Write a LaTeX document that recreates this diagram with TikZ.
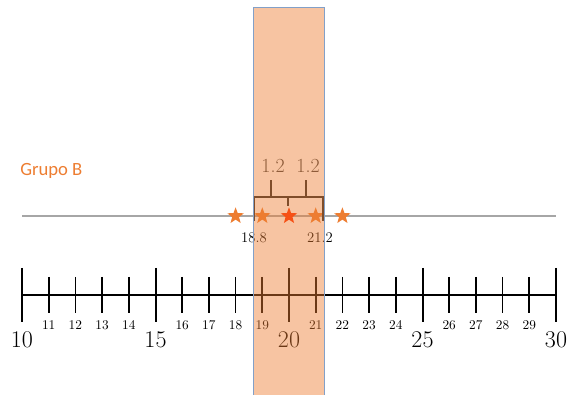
\documentclass[tikz,border=0pt]{standalone}
\usepackage{fontspec}
\newfontfamily\carlito{Carlito}
\usetikzlibrary{shapes.geometric}
\definecolor{grporange}{RGB}{237,125,49}
\definecolor{grpred}{RGB}{255,45,0}
\definecolor{bandedge}{RGB}{130,160,200}

\begin{document}
\begin{tikzpicture}[x=0.75pt,y=-0.75pt,
  axis/.style={line width=1.5pt, black},
  minortick/.style={line width=1.3pt, black},
  majortick/.style={line width=1.5pt, black},
  minorlbl/.style={font=\fontsize{10}{12}\selectfont, inner sep=0pt},
  majorlbl/.style={font=\fontsize{18}{20}\selectfont, inner sep=0pt},
  pt/.style={star, star points=5, star point ratio=2.4, fill=grporange, minimum size=13pt, inner sep=0pt},
  brace/.style={line width=1.2pt, black!85},
  band/.style={fill=grporange, fill opacity=0.45, draw=bandedge, line width=0.6pt}
]
\useasboundingbox (0,0) rectangle (569,395);

% grupo B
\node[font=\carlito\fontsize{14}{16}\selectfont, text=grporange, anchor=west, inner sep=0pt] (grp) at (20,171) {Grupo B};
\coordinate (gl) at (22,216);
\coordinate (gr) at (556,216);
\draw[gray!70, line width=1pt] (gl) -- (gr);

\foreach \v/\c in {18/grporange,19/grporange,20/grpred,21/grporange,22/grporange}
  \node[pt, fill=\c] (s\v) at ({22+(\v-10)*26.7},216) {};

% braces
\coordinate (b1) at (254,221);
\coordinate (b2) at (254,197);
\coordinate (b3) at (323,197);
\coordinate (b4) at (323,221);
\coordinate (bm) at (288,197);
\coordinate (bl) at (271,197);
\coordinate (br) at (306,197);
\draw[brace] (b1) -- (b2) -- (b3) -- (b4);
\draw[brace] (bm) -- ++(0,9);
\draw[brace] (bl) -- ++(0,-17);
\draw[brace] (br) -- ++(0,-17);
\node[font=\fontsize{15}{18}\selectfont, text=black!75, inner sep=0pt] (d1) at (273,166) {1.2};
\node[font=\fontsize{15}{18}\selectfont, text=black!75, inner sep=0pt] (d2) at (308,166) {1.2};
\node[font=\fontsize{11}{13}\selectfont, inner sep=0pt] (lo) at (254,238) {18.8};
\node[font=\fontsize{11}{13}\selectfont, inner sep=0pt] (hi) at (320,238) {21.2};

% number line
\coordinate (a10) at (22,295);
\coordinate (a30) at (556,295);
\draw[axis] (a10) -- (a30);
\foreach \n in {11,12,13,14,16,17,18,19,21,22,23,24,26,27,28,29} {
  \draw[minortick] ({22+(\n-10)*26.7},277) -- ++(0,36);
  \node[minorlbl] (n\n) at ({22+(\n-10)*26.7},325) {\n};
}
\foreach \n in {10,15,20,25,30} {
  \draw[majortick] ({22+(\n-10)*26.7},268) -- ++(0,54);
  \node[majorlbl] (n\n) at ({22+(\n-10)*26.7},340) {\n};
}

% band
\draw[band] (253,7) rectangle (324,396);
\end{tikzpicture}
\end{document}
